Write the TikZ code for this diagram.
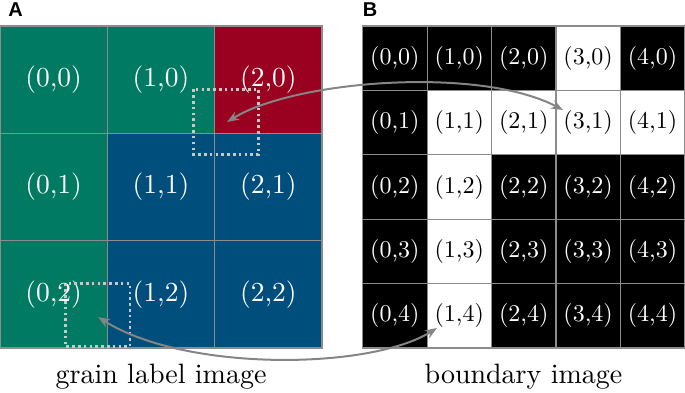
\documentclass[tikz,border=0pt]{standalone}
\usepackage{fontspec}
\newfontfamily\panelfont{Liberation Sans}
\newfontfamily\tenfont{lmroman10-regular}[Extension=.otf]
\usetikzlibrary{arrows.meta}
\definecolor{grgreen}{HTML}{007A62}
\definecolor{grred}{HTML}{9A0020}
\definecolor{grblue}{HTML}{004E7C}
\definecolor{gridgray}{HTML}{8C8C8C}
\definecolor{arrgray}{HTML}{858585}
\definecolor{dotgray}{HTML}{C8C8C8}
\tikzset{
  cellA/.style={draw=gridgray, line width=1.2pt, minimum size=107.33pt, inner sep=0pt, text=white,
    font=\tenfont\fontsize{27.5}{31}\selectfont},
  cellB/.style={draw=gridgray, line width=1.2pt, minimum size=64.4pt, inner sep=0pt,
    font=\tenfont\fontsize{24}{27}\selectfont},
  blackcell/.style={cellB, fill=black, text=white},
  whitecell/.style={cellB, fill=white, text=black},
  dotsq/.style={draw=dotgray, line width=2.6pt, dash pattern=on 2.6pt off 3.2pt},
  link/.style={draw=arrgray, line width=2pt, {Stealth[length=12pt,width=9pt]}-{Stealth[length=12pt,width=9pt]}},
  caption/.style={font=\tenfont\fontsize{28}{32}\selectfont},
  panel/.style={font=\panelfont\bfseries\fontsize{20}{22}\selectfont}
}
\begin{document}
\begin{tikzpicture}[x=1pt,y=-1pt]
\useasboundingbox (0,0) rectangle (685,393);
% panel A
\foreach \i/\j/\c in {0/0/grgreen,1/0/grgreen,2/0/grred,0/1/grgreen,1/1/grblue,2/1/grblue,0/2/grgreen,1/2/grblue,2/2/grblue}{
  \node[cellA, fill=\c] (a\i\j) at ({53.67+107.33*\i},{79.67+107.33*\j}) {(\i,\j)};
}
% panel B
\foreach \i/\j/\s in {0/0/blackcell,1/0/blackcell,2/0/blackcell,3/0/whitecell,4/0/blackcell,
  0/1/blackcell,1/1/whitecell,2/1/whitecell,3/1/whitecell,4/1/whitecell,
  0/2/blackcell,1/2/whitecell,2/2/blackcell,3/2/blackcell,4/2/blackcell,
  0/3/blackcell,1/3/whitecell,2/3/blackcell,3/3/blackcell,4/3/blackcell,
  0/4/blackcell,1/4/whitecell,2/4/blackcell,3/4/blackcell,4/4/blackcell}{
  \node[\s] (b\i\j) at ({394.9+64.4*\i},{58.2+64.4*\j}) {(\i,\j)};
}
% dotted boundary-resolution squares
\draw[dotsq] (193.5,89.5) rectangle (258.5,154.5);
\draw[dotsq] (65.5,283.5) rectangle (130,346.5);
% arrow end points
\coordinate (p1) at (227,122);
\coordinate (q1) at (563,110);
\coordinate (p2) at (98,317);
\coordinate (q2) at (437,328);
\draw[link] (p1) .. controls (295,80) and (480,66) .. (q1);
\draw[link] (p2) .. controls (185,372) and (370,370) .. (q2);
% captions and panel letters
\node[caption] (capA) at (161,377) {grain label image};
\node[caption] (capB) at (523.5,377) {boundary image};
\node[panel] (lA) at (15.5,9.5) {A};
\node[panel] (lB) at (370,9.5) {B};
\end{tikzpicture}
\end{document}
